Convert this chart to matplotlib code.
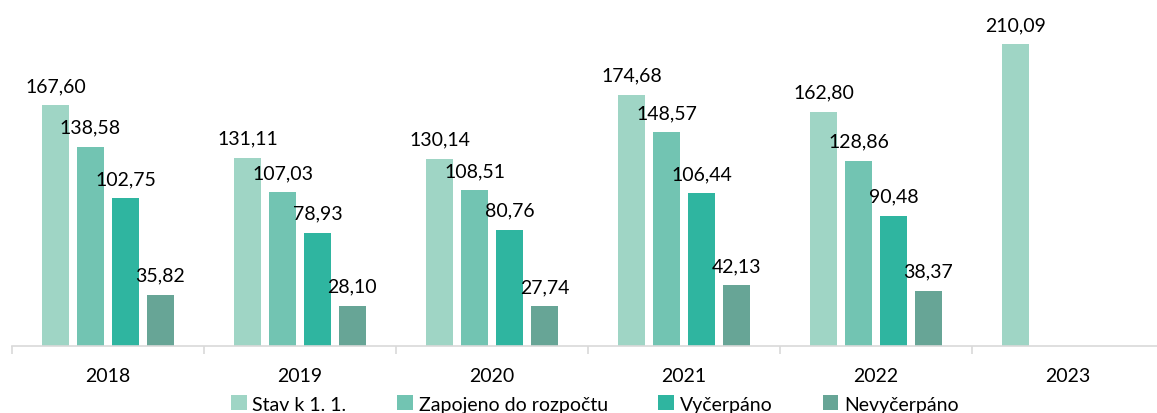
import numpy as np
import matplotlib.pyplot as plt

# Data
years = ['2018', '2019', '2020', '2021', '2022', '2023']
stav = [167.60, 131.11, 130.14, 174.68, 162.80, 210.09]
zapojeno = [138.58, 107.03, 108.51, 148.57, 128.86, np.nan]
vycerpano = [102.75, 78.93, 80.76, 106.44, 90.48, np.nan]
nevycerpano = [35.82, 28.10, 27.74, 42.13, 38.37, np.nan]

series = [stav, zapojeno, vycerpano, nevycerpano]
names = ['Stav k 1. 1.', 'Zapojeno do rozpočtu', 'Vyčerpáno', 'Nevyčerpáno']
colors = ['#9fd5c5', '#72c4b2', '#2fb5a0', '#67a596']

plt.rcParams['font.family'] = ['Lato', 'DejaVu Sans']

fig = plt.figure(figsize=(11.57, 4.14), dpi=100)
ax = fig.add_axes([12 / 1157, 67 / 414, 1152 / 1157, 347 / 414])

x = np.arange(len(years))
width = 0.14
step = 0.182
for i, (vals, name, col) in enumerate(zip(series, names, colors)):
    pos = x + (i - 1.5) * step
    bars = ax.bar(pos, vals, width, color=col, label=name)
    for p, v in zip(pos, vals):
        if not np.isnan(v):
            ax.annotate(('%.2f' % v).replace('.', ','), (p, v), xytext=(0, 8),
                        textcoords='offset points', ha='center', va='bottom',
                        fontsize=14, color='#000000')

ax.set_xlim(-0.5, len(years) - 0.5)
ax.set_ylim(0, 241.4)
ax.set_yticks([])
for s in ['top', 'right', 'left']:
    ax.spines[s].set_visible(False)
ax.spines['bottom'].set_color('#d9d9d9')
ax.spines['bottom'].set_linewidth(1.2)

ax.set_xticks(x)
ax.set_xticklabels(years, fontsize=14)
ax.tick_params(axis='x', length=0, pad=15)
ax.set_xticks(np.arange(len(years) + 1) - 0.5, minor=True)
ax.tick_params(axis='x', which='minor', length=6, color='#d9d9d9', width=1.2)

fig.legend(loc='center', bbox_to_anchor=(595 / 1157, 9 / 414), ncol=4,
           frameon=False, fontsize=14, handlelength=0.8, handleheight=0.8,
           handletextpad=0.3, columnspacing=2.6, borderpad=0)

plt.savefig('out.png', dpi=100)
